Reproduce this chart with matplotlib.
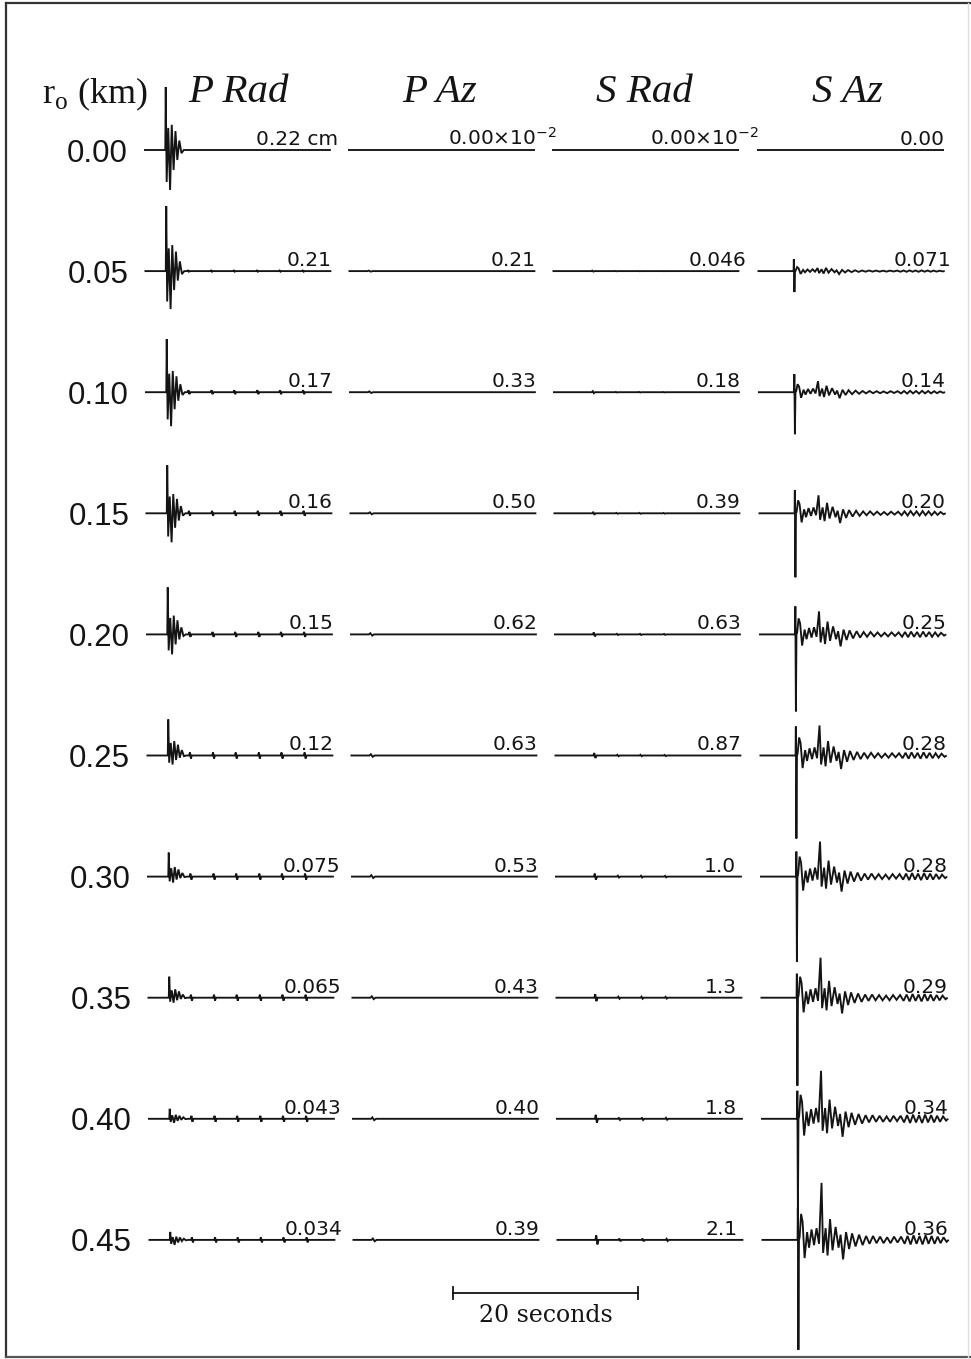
import numpy as np
import matplotlib
matplotlib.use("Agg")
import matplotlib.pyplot as plt

# ---------------------------------------------------------------------------
# Data
# ---------------------------------------------------------------------------
radii = ["0.00", "0.05", "0.10", "0.15", "0.20", "0.25", "0.30", "0.35", "0.40", "0.45"]
columns = ["P Rad", "P Az", "S Rad", "S Az"]

# peak-displacement annotations printed at the end of each trace
p_rad_peaks = ["0.22 cm", "0.21", "0.17", "0.16", "0.15", "0.12", "0.075", "0.065", "0.043", "0.034"]
p_az_peaks = [r"0.00$\times$10$^{-2}$", "0.21", "0.33", "0.50", "0.62", "0.63", "0.53", "0.43", "0.40", "0.39"]
s_rad_peaks = [r"0.00$\times$10$^{-2}$", "0.046", "0.18", "0.39", "0.63", "0.87", "1.0", "1.3", "1.8", "2.1"]
s_az_peaks = ["0.00", "0.071", "0.14", "0.20", "0.25", "0.28", "0.28", "0.29", "0.34", "0.36"]

# trace length and arrival times (s)
trace_duration = 20.2
p_arrival = 2.3
s_arrival = 3.9

# P Rad: first-motion spike heights (up / down) and late pulse size per radius
p_rad_up = [63, 65, 53, 48, 47, 36, 24, 21, 10, 8]
p_rad_down = [40, 38, 34, 29, 20, 9, 6, 5, 4, 5]
p_rad_pulse = [0.0, 0.6, 2.0, 2.5, 2.5, 3.0, 3.0, 3.0, 3.0, 2.5]
# P Rad burst shape: time after arrival (s), fraction of up (+) / down (-) spike
p_rad_burst_t = [0.0, 0.05, 0.15, 0.32, 0.52, 0.7, 0.9, 1.1, 1.3, 1.52, 1.75, 2.0]
p_rad_burst_f = [0.0, 1.0, -0.8, 0.35, -1.0, 0.4, -0.5, 0.3, -0.25, 0.15, -0.08, 0.0]
p_rad_pulse_t = [2.4, 4.9, 7.35, 9.85, 12.3, 14.8]

# P Az: small wiggle near the start
p_az_wiggle = [0.0, 0.5, 0.8, 1.0, 1.2, 1.3, 1.4, 1.4, 1.4, 1.4]
p_az_wiggle_t = 2.2

# S Rad: small pulses after the S arrival
s_rad_blip = [0.0, 0.5, 1.0, 1.5, 2.0, 2.5, 3.0, 3.5, 4.0, 4.5]
s_rad_blip_t = [4.3, 6.8, 9.3, 11.9]
s_rad_blip_rel = [1.0, 0.3, 0.3, 0.25]

# S Az: direct spike up / down, second arrival, coda scale per radius
s_az_up = [0, 12, 18, 23, 28, 29, 25, 24, 28, 32]
s_az_down = [0, 21, 42, 64, 77, 83, 85, 88, 97, 110]
s_az_second = [0, 3, 11, 18, 23, 30, 35, 40, 48, 57]
s_az_coda = [0.0, 0.2, 0.4, 0.65, 0.8, 0.9, 1.0, 1.05, 1.2, 1.3]
s_az_second_t = 2.59
# coda shape: time after arrival (s), amplitude for coda scale 1
s_az_coda_t = [0.22, 0.38, 0.54, 0.76, 1.03, 1.24, 1.51, 1.78, 2.05, 2.32,
               2.76, 3.03, 3.24, 3.51, 3.78, 4.11, 4.43, 4.65, 4.92, 5.24,
               5.57, 5.89, 6.27, 6.65, 7.03, 7.41, 7.78, 8.16, 8.54, 8.92,
               9.30, 9.68, 10.05, 10.43, 10.81, 11.19, 11.57, 11.89, 12.22, 12.54,
               12.86, 13.19, 13.51, 13.84, 14.16, 14.49, 14.81, 15.14, 15.46, 15.78,
               16.11, 16.32]
s_az_coda_a = [2, 20, 14, -14, 6, -6, 8, -4, 9, -3,
               -10, 9, -12, 16, -8, 10, -6, 4, -15, 6,
               -7, 5, -5, 4, -4, 3, -3, 3, -2.5, 2.5,
               -2.5, 2, -2.5, 2.5, -2, 2.5, -3, 3, -3.5, 3.5,
               -3, 3, -3.5, 3.5, -3, 3, -3, 2.5, -2.5, 2,
               -1.5, 0]

# ---------------------------------------------------------------------------
# Layout (page units = pixels)
# ---------------------------------------------------------------------------
W, H = 971, 1359
PX_PER_S = 9.25
ROW0_Y = 150
ROW_STEP = 121.1
COL_X0 = [144, 348, 552, 757]
ROW_DRIFT = 0.5
INK = "#141414"

fig = plt.figure(figsize=(W / 100, H / 100), dpi=100)
ax = fig.add_axes([0, 0, 1, 1])
ax.set_xlim(0, W)
ax.set_ylim(H, 0)
ax.axis("off")


def build(knots):
    """Sort (t, amplitude) knots and pad with a flat line to the trace ends."""
    knots = sorted(knots, key=lambda k: k[0])
    t = [0.0] + [k[0] for k in knots] + [trace_duration]
    a = [0.0] + [k[1] for k in knots] + [0.0]
    return np.array(t), np.array(a)


def p_rad_trace(i):
    knots = []
    for dt, f in zip(p_rad_burst_t, p_rad_burst_f):
        amp = f * p_rad_up[i] if f > 0 else f * p_rad_down[i]
        knots.append((p_arrival + dt, amp))
    a = p_rad_pulse[i]
    if a > 0:
        for pt in p_rad_pulse_t:
            tt = p_arrival + pt
            knots += [(tt - 0.1, 0.0), (tt, a), (tt + 0.1, -a), (tt + 0.2, 0.0)]
    return build(knots)


def p_az_trace(i):
    a = p_az_wiggle[i]
    tt = p_az_wiggle_t
    knots = [(tt - 0.15, 0.0), (tt, a), (tt + 0.2, -a), (tt + 0.4, 0.0)] if a > 0 else []
    return build(knots)


def s_rad_trace(i):
    knots = []
    a = s_rad_blip[i]
    if a > 0:
        for bt, rel in zip(s_rad_blip_t, s_rad_blip_rel):
            knots += [(bt - 0.1, 0.0), (bt, a * rel), (bt + 0.12, -a * rel), (bt + 0.25, 0.0)]
    return build(knots)


def s_az_trace(i):
    if s_az_up[i] == 0:
        return build([])
    c = s_az_coda[i]
    knots = [(s_arrival, 0.0), (s_arrival + 0.03, s_az_up[i]),
             (s_arrival + 0.09, -s_az_down[i]), (s_arrival + 0.15, 0.0)]
    knots += [(s_arrival + dt, c * amp) for dt, amp in zip(s_az_coda_t, s_az_coda_a)]
    knots.append((s_arrival + s_az_second_t, s_az_second[i]))
    return build(knots)


builders = [p_rad_trace, p_az_trace, s_rad_trace, s_az_trace]
peak_sets = [p_rad_peaks, p_az_peaks, s_rad_peaks, s_az_peaks]
first_row_overhang = [7, 22, 20, 0]

for i, r in enumerate(radii):
    y0 = ROW0_Y + i * ROW_STEP
    # radius label
    ax.text(128 + i * 0.45, y0 + 11.5, r, ha="right", va="baseline",
            fontsize=22.5, family="Liberation Sans", color=INK)
    for j, make in enumerate(builders):
        t, a = make(i)
        x0 = COL_X0[j] + i * ROW_DRIFT
        ax.plot(x0 + t * PX_PER_S, y0 - a, color=INK, lw=1.35,
                solid_joinstyle="miter", solid_capstyle="butt")
        x_end = x0 + trace_duration * PX_PER_S
        label = peak_sets[j][i]
        if i == 0 and first_row_overhang[j] > 0:
            ax.text(x_end + first_row_overhang[j], y0 - 5, label, ha="right",
                    va="baseline", fontsize=14.5, family="DejaVu Sans", color=INK)
        else:
            ax.text(x_end - 22, y0 - 5, label, ha="center", va="baseline",
                    fontsize=14.5, family="DejaVu Sans", color=INK)

# column headings
heading_x = [188, 402, 596, 812]
for name, hx in zip(columns, heading_x):
    ax.text(hx, 102, name, ha="left", va="baseline", fontsize=29.5,
            family="Liberation Serif", style="italic", color=INK)
ax.text(42, 103, r"r$_{\mathregular{o}}$ (km)", ha="left", va="baseline",
        fontsize=26, family="Liberation Serif", color=INK)

# time scale bar
bar_x0 = 453
bar_y = 1293
bar_len = 20 * PX_PER_S
ax.plot([bar_x0, bar_x0 + bar_len], [bar_y, bar_y], color=INK, lw=1.3)
for bx in (bar_x0, bar_x0 + bar_len):
    ax.plot([bx, bx], [bar_y - 6, bar_y + 6], color=INK, lw=1.3)
ax.text(bar_x0 + bar_len / 2, 1322, "20 seconds", ha="center", va="baseline",
        fontsize=17, family="DejaVu Serif", color=INK)

# page frame
ax.plot([6, 6], [3, 1357], color="#333333", lw=1.6)
ax.plot([6, W], [3, 3], color="#333333", lw=1.6)
ax.plot([6, W], [1357, 1357], color="#555555", lw=1.6)
ax.plot([968, 968], [3, 1357], color="#dddddd", lw=1.0)

fig.savefig("out.png", dpi=100, facecolor="white")
